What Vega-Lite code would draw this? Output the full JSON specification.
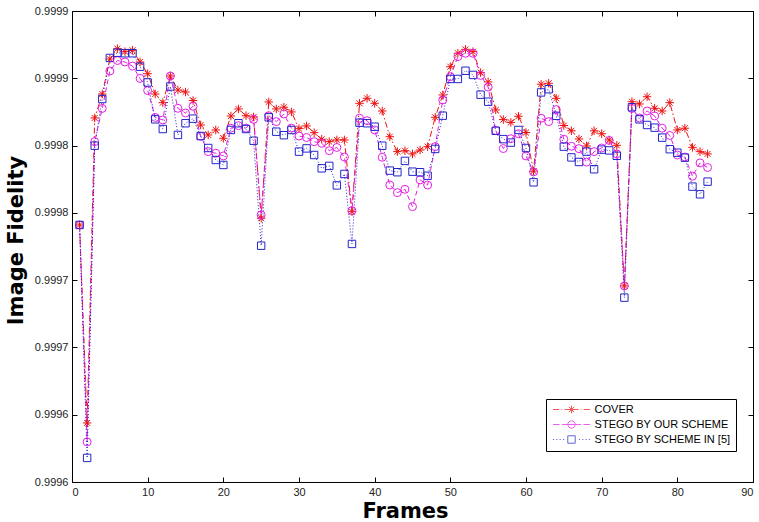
{
  "$schema": "https://vega.github.io/schema/vega-lite/v6.json",
  "width": 681,
  "height": 471,
  "autosize": {"type": "none"},
  "padding": {"left": 72, "top": 11, "right": 6, "bottom": 40},
  "background": "white",
  "config": {
    "view": {"stroke": "#000", "strokeWidth": 1},
    "axis": {
      "grid": false,
      "domain": false,
      "labelFont": "Liberation Sans",
      "labelFontSize": 11,
      "labelColor": "#222",
      "tickColor": "#000",
      "tickSize": -5,
      "labelPadding": 9,
      "titleFont": "DejaVu Sans",
      "titleFontWeight": "bold",
      "titleFontSize": 21,
      "titleColor": "#000"
    }
  },
  "data": {
    "values": [
      {"frame": 1, "c": 0.999741, "o": 0.999741, "s": 0.999741},
      {"frame": 2, "c": 0.9995939, "o": 0.9995798, "s": 0.9995679},
      {"frame": 3, "c": 0.9998205, "o": 0.9998029, "s": 0.9997999},
      {"frame": 4, "c": 0.9998383, "o": 0.9998276, "s": 0.9998346},
      {"frame": 5, "c": 0.9998643, "o": 0.9998554, "s": 0.9998651},
      {"frame": 6, "c": 0.999872, "o": 0.9998632, "s": 0.999869},
      {"frame": 7, "c": 0.9998698, "o": 0.9998621, "s": 0.9998686},
      {"frame": 8, "c": 0.9998708, "o": 0.9998591, "s": 0.9998686},
      {"frame": 9, "c": 0.9998621, "o": 0.9998499, "s": 0.9998586},
      {"frame": 10, "c": 0.9998534, "o": 0.9998409, "s": 0.9998469},
      {"frame": 11, "c": 0.9998383, "o": 0.9998209, "s": 0.9998195},
      {"frame": 12, "c": 0.9998319, "o": 0.999819, "s": 0.9998123},
      {"frame": 13, "c": 0.9998517, "o": 0.9998517, "s": 0.9998439},
      {"frame": 14, "c": 0.9998413, "o": 0.9998277, "s": 0.9998079},
      {"frame": 15, "c": 0.9998398, "o": 0.9998242, "s": 0.9998166},
      {"frame": 16, "c": 0.9998335, "o": 0.9998292, "s": 0.99982},
      {"frame": 17, "c": 0.9998153, "o": 0.9998069, "s": 0.9998071},
      {"frame": 18, "c": 0.9998079, "o": 0.9997955, "s": 0.9997982},
      {"frame": 19, "c": 0.9998116, "o": 0.9997943, "s": 0.9997893},
      {"frame": 20, "c": 0.9998054, "o": 0.9997923, "s": 0.9997856},
      {"frame": 21, "c": 0.999822, "o": 0.9998129, "s": 0.9998116},
      {"frame": 22, "c": 0.9998272, "o": 0.9998148, "s": 0.9998166},
      {"frame": 23, "c": 0.9998222, "o": 0.9998129, "s": 0.9998123},
      {"frame": 24, "c": 0.9998213, "o": 0.9998195, "s": 0.9998036},
      {"frame": 25, "c": 0.999746, "o": 0.9997485, "s": 0.9997256},
      {"frame": 26, "c": 0.9998324, "o": 0.9998222, "s": 0.999821},
      {"frame": 27, "c": 0.9998272, "o": 0.9998178, "s": 0.9998103},
      {"frame": 28, "c": 0.9998285, "o": 0.9998235, "s": 0.9998077},
      {"frame": 29, "c": 0.999825, "o": 0.9998129, "s": 0.9998116},
      {"frame": 30, "c": 0.9998126, "o": 0.9998071, "s": 0.9997955},
      {"frame": 31, "c": 0.9998146, "o": 0.999806, "s": 0.9997979},
      {"frame": 32, "c": 0.9998096, "o": 0.9998029, "s": 0.999793},
      {"frame": 33, "c": 0.9998047, "o": 0.9998017, "s": 0.9997831},
      {"frame": 34, "c": 0.9998029, "o": 0.9997962, "s": 0.9997849},
      {"frame": 35, "c": 0.9998042, "o": 0.9997986, "s": 0.9997704},
      {"frame": 36, "c": 0.9998042, "o": 0.9997915, "s": 0.9997789},
      {"frame": 37, "c": 0.9997509, "o": 0.9997516, "s": 0.9997269},
      {"frame": 38, "c": 0.9998314, "o": 0.9998203, "s": 0.999817},
      {"frame": 39, "c": 0.9998351, "o": 0.9998185, "s": 0.9998166},
      {"frame": 40, "c": 0.9998314, "o": 0.9998116, "s": 0.999814},
      {"frame": 41, "c": 0.9998257, "o": 0.9997913, "s": 0.9997999},
      {"frame": 42, "c": 0.9998066, "o": 0.9997707, "s": 0.9997814},
      {"frame": 43, "c": 0.9997955, "o": 0.999765, "s": 0.9997802},
      {"frame": 44, "c": 0.9997962, "o": 0.9997675, "s": 0.9997886},
      {"frame": 45, "c": 0.9997938, "o": 0.9997546, "s": 0.9997806},
      {"frame": 46, "c": 0.9997967, "o": 0.9997745, "s": 0.9997802},
      {"frame": 47, "c": 0.9997992, "o": 0.9997707, "s": 0.9997776},
      {"frame": 48, "c": 0.999821, "o": 0.9997992, "s": 0.9997975},
      {"frame": 49, "c": 0.9998376, "o": 0.9998339, "s": 0.9998222},
      {"frame": 50, "c": 0.9998586, "o": 0.9998512, "s": 0.9998495},
      {"frame": 51, "c": 0.9998686, "o": 0.9998661, "s": 0.9998495},
      {"frame": 52, "c": 0.9998715, "o": 0.9998686, "s": 0.9998556},
      {"frame": 53, "c": 0.9998698, "o": 0.9998686, "s": 0.9998525},
      {"frame": 54, "c": 0.9998542, "o": 0.9998521, "s": 0.9998378},
      {"frame": 55, "c": 0.9998473, "o": 0.9998435, "s": 0.9998326},
      {"frame": 56, "c": 0.9998265, "o": 0.9998112, "s": 0.999811},
      {"frame": 57, "c": 0.9998193, "o": 0.9997978, "s": 0.9998048},
      {"frame": 58, "c": 0.9998172, "o": 0.9998051, "s": 0.9998022},
      {"frame": 59, "c": 0.9998218, "o": 0.9998088, "s": 0.9998116},
      {"frame": 60, "c": 0.9998097, "o": 0.9997923, "s": 0.9997982},
      {"frame": 61, "c": 0.999781, "o": 0.9997804, "s": 0.9997727},
      {"frame": 62, "c": 0.9998456, "o": 0.9998203, "s": 0.9998395},
      {"frame": 63, "c": 0.9998463, "o": 0.9998178, "s": 0.9998419},
      {"frame": 64, "c": 0.9998351, "o": 0.9998267, "s": 0.9998221},
      {"frame": 65, "c": 0.9998149, "o": 0.9998047, "s": 0.9997992},
      {"frame": 66, "c": 0.999811, "o": 0.9997995, "s": 0.9997912},
      {"frame": 67, "c": 0.9998049, "o": 0.9997977, "s": 0.9997878},
      {"frame": 68, "c": 0.9997997, "o": 0.9997877, "s": 0.9997955},
      {"frame": 69, "c": 0.999811, "o": 0.9997955, "s": 0.9997824},
      {"frame": 70, "c": 0.9998088, "o": 0.9997982, "s": 0.999797},
      {"frame": 71, "c": 0.9998042, "o": 0.9998038, "s": 0.9997964},
      {"frame": 72, "c": 0.9998002, "o": 0.9997938, "s": 0.9997924},
      {"frame": 73, "c": 0.9996957, "o": 0.9996957, "s": 0.999687},
      {"frame": 74, "c": 0.9998326, "o": 0.9998276, "s": 0.9998285},
      {"frame": 75, "c": 0.9998309, "o": 0.9998205, "s": 0.9998195},
      {"frame": 76, "c": 0.9998363, "o": 0.9998257, "s": 0.9998153},
      {"frame": 77, "c": 0.9998277, "o": 0.999822, "s": 0.9998133},
      {"frame": 78, "c": 0.9998257, "o": 0.9998129, "s": 0.9998059},
      {"frame": 79, "c": 0.9998319, "o": 0.9998075, "s": 0.9997973},
      {"frame": 80, "c": 0.9998116, "o": 0.999793, "s": 0.9997947},
      {"frame": 81, "c": 0.9998129, "o": 0.9997915, "s": 0.999791},
      {"frame": 82, "c": 0.9997987, "o": 0.9997772, "s": 0.9997695},
      {"frame": 83, "c": 0.9997955, "o": 0.9997871, "s": 0.9997638},
      {"frame": 84, "c": 0.9997938, "o": 0.9997837, "s": 0.9997732}
    ]
  },
  "transform": [{"fold": ["c", "o", "s"], "as": ["series", "value"]}],
  "layer": [
    {
      "mark": {"type": "line", "strokeWidth": 1},
      "encoding": {
        "x": {
          "field": "frame",
          "type": "quantitative",
          "scale": {"domain": [0, 90], "nice": false, "zero": false},
          "axis": {"orient": "bottom", "values": [0, 10, 20, 30, 40, 50, 60, 70, 80, 90], "title": "Frames", "titleX": 333, "titleY": 39.5, "titleBaseline": "bottom"}
        },
        "y": {
          "field": "value",
          "type": "quantitative",
          "scale": {"domain": [0.99955, 0.9999], "nice": false, "zero": false},
          "axis": {
            "orient": "left",
            "values": [0.99955, 0.9996, 0.99965, 0.9997, 0.99975, 0.9998, 0.99985, 0.9999],
            "labelExpr": "format(datum.value + 0.000001, '.4f')",
            "title": "Image Fidelity",
            "titleY": 229,
            "titlePadding": 8
          }
        },
        "stroke": {
          "field": "series",
          "type": "nominal",
          "scale": {"domain": ["c", "o", "s"], "range": ["#ee1111", "#e41ee4", "#2424cc"]},
          "legend": null
        },
        "strokeDash": {
          "field": "series",
          "type": "nominal",
          "scale": {"domain": ["c", "o", "s"], "range": [[6, 2.5, 1.5, 2.5], [5, 3], [1, 2]]},
          "legend": null
        }
      }
    },
    {
      "mark": {"type": "point", "filled": false, "strokeWidth": 1, "opacity": 1},
      "encoding": {
        "x": {
          "field": "frame",
          "type": "quantitative",
          "axis": {"orient": "top", "values": [0, 10, 20, 30, 40, 50, 60, 70, 80, 90], "labels": false, "title": null}
        },
        "y": {
          "field": "value",
          "type": "quantitative",
          "axis": {"orient": "right", "values": [0.99955, 0.9996, 0.99965, 0.9997, 0.99975, 0.9998, 0.99985, 0.9999], "labels": false, "title": null}
        },
        "stroke": {
          "field": "series",
          "type": "nominal",
          "legend": null
        },
        "size": {
          "field": "series",
          "type": "nominal",
          "scale": {"domain": ["c", "o", "s"], "range": [72, 55, 52]},
          "legend": null
        },
        "shape": {
          "field": "series",
          "type": "nominal",
          "scale": {"domain": ["c", "o", "s"], "range": ["M-1,0H1M0,-1V1M-0.7,-0.7L0.7,0.7M-0.7,0.7L0.7,-0.7", "circle", "square"]},
          "legend": null
        }
      }
    },
    {
      "transform": [{"filter": "datum.frame < 0"}],
      "mark": {"type": "point", "filled": false, "strokeWidth": 1, "size": 55},
      "encoding": {
        "x": {"field": "frame", "type": "quantitative", "axis": null},
        "y": {"field": "value", "type": "quantitative", "axis": null},
        "color": {
          "field": "series",
          "type": "nominal",
          "scale": {"domain": ["c", "o", "s"], "range": ["#ee1111", "#e41ee4", "#2424cc"]},
          "legend": {
            "title": null,
            "orient": "none",
            "legendX": 474,
            "legendY": 388,
            "direction": "vertical",
            "fillColor": "white",
            "strokeColor": "#000",
            "padding": 5,
            "rowPadding": 2,
            "symbolOffset": 15,
            "labelOffset": 17.6,
            "symbolSize": 55,
            "symbolStrokeWidth": 1,
            "labelFont": "Liberation Sans",
            "labelFontSize": 11,
            "labelColor": "#000",
            "labelExpr": "datum.value == 'c' ? 'COVER' : datum.value == 'o' ? 'STEGO BY OUR SCHEME' : 'STEGO BY SCHEME IN [5]'"
          }
        },
        "shape": {
          "field": "series",
          "type": "nominal",
          "scale": {"domain": ["c", "o", "s"], "range": [
            "M-5,0H-3.3M-2.7,0H-2.5M-1.9,0H1.9M2.5,0H2.7M3.3,0H5M0,-1V1M-0.7,-0.7L0.7,0.7M-0.7,0.7L0.7,-0.7",
            "M-5,0H-3.2M-2.6,0H2.6M3.2,0H5M1,0A1,1 0 1,1 -1,0A1,1 0 1,1 1,0",
            "M-5,0H-4.7M-4.1,0H-3.8M-3.2,0H-2.9M-2.3,0H-2M2,0H2.3M2.9,0H3.2M3.8,0H4.1M4.7,0H5M-1,-1H1V1H-1Z"
          ]},
          "legend": {
            "title": null,
            "orient": "none",
            "legendX": 474,
            "legendY": 388,
            "direction": "vertical",
            "fillColor": "white",
            "strokeColor": "#000",
            "padding": 5,
            "rowPadding": 2,
            "symbolOffset": 15,
            "labelOffset": 17.6,
            "symbolSize": 55,
            "symbolStrokeWidth": 1,
            "labelFont": "Liberation Sans",
            "labelFontSize": 11,
            "labelColor": "#000",
            "labelExpr": "datum.value == 'c' ? 'COVER' : datum.value == 'o' ? 'STEGO BY OUR SCHEME' : 'STEGO BY SCHEME IN [5]'"
          }
        }
      }
    }
  ],
  "resolve": {"scale": {"shape": "independent", "color": "independent", "size": "independent"}, "axis": {"x": "independent", "y": "independent"}}
}
